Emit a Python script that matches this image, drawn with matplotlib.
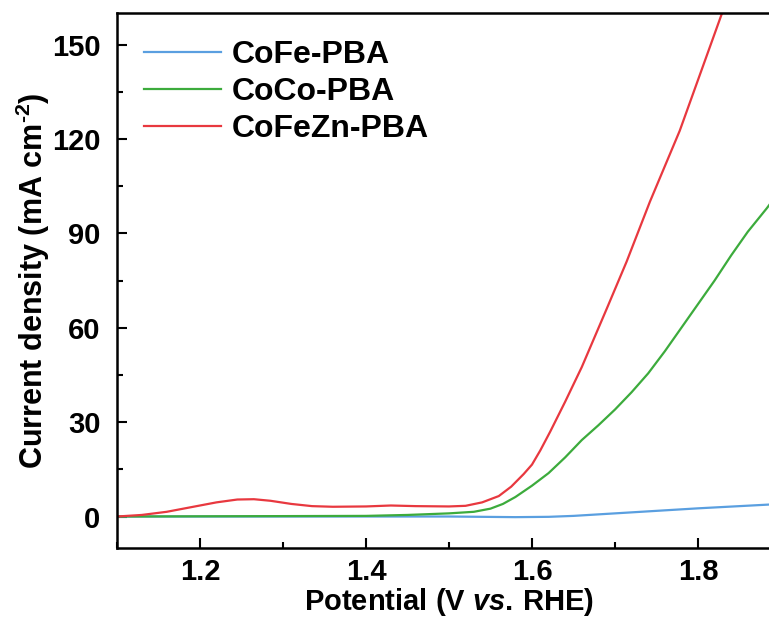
import numpy as np
import matplotlib.pyplot as plt
from matplotlib.ticker import MultipleLocator

plt.rcParams['font.family'] = ['Liberation Sans', 'DejaVu Sans']
plt.rcParams['font.weight'] = 'bold'
plt.rcParams['mathtext.fontset'] = 'custom'
plt.rcParams['mathtext.rm'] = 'Liberation Sans:bold'
plt.rcParams['mathtext.bf'] = 'Liberation Sans:bold'
plt.rcParams['mathtext.it'] = 'Liberation Sans:bold:italic'
plt.rcParams['mathtext.bfit'] = 'Liberation Sans:bold:italic'

# CoFe-PBA
v_cofe = [1.10, 1.50, 1.58, 1.62, 1.65, 1.70, 1.75, 1.80, 1.85, 1.90]
j_cofe = [0.0, 0.0, -0.2, -0.1, 0.2, 1.0, 1.8, 2.6, 3.3, 4.0]

# CoCo-PBA
v_coco = [1.10, 1.40, 1.45, 1.50, 1.53, 1.55, 1.565, 1.58, 1.60, 1.62, 1.64,
          1.66, 1.68, 1.70, 1.72, 1.74, 1.76, 1.78, 1.80, 1.82, 1.84, 1.86,
          1.883, 1.90]
j_coco = [0.0, 0.2, 0.5, 1.0, 1.5, 2.5, 4.0, 6.2, 9.8, 13.8, 18.8,
          24.3, 29.0, 34.0, 39.5, 45.5, 52.5, 60.0, 67.5, 75.0, 83.0, 90.5,
          98.0, 104.0]

# CoFeZn-PBA
v_cofezn = [1.10, 1.13, 1.16, 1.19, 1.22, 1.245, 1.265, 1.285, 1.31, 1.335,
            1.36, 1.40, 1.43, 1.46, 1.50, 1.52, 1.54, 1.56, 1.575, 1.59,
            1.60, 1.61, 1.622, 1.64, 1.66, 1.69, 1.714, 1.742, 1.778, 1.829,
            1.84]
j_cofezn = [0.0, 0.5, 1.5, 3.0, 4.5, 5.4, 5.5, 5.0, 4.0, 3.3,
            3.1, 3.2, 3.5, 3.3, 3.2, 3.4, 4.5, 6.5, 9.5, 13.5,
            16.5, 21.0, 27.0, 36.5, 47.5, 66.0, 81.0, 100.0, 122.6, 160.0,
            168.0]

fig = plt.figure(figsize=(7.69, 6.22), dpi=100)
ax = fig.add_axes([0.1521, 0.119, 0.8635, 0.860])

ax.plot(v_cofe, j_cofe, color='#5a9fe0', lw=1.6, label='CoFe-PBA')
ax.plot(v_coco, j_coco, color='#3cab3c', lw=1.6, label='CoCo-PBA')
ax.plot(v_cofezn, j_cofezn, color='#e8383f', lw=1.6, label='CoFeZn-PBA')

ax.set_xlim(1.1, 1.9)
ax.set_ylim(-10, 160)
ax.xaxis.set_major_locator(MultipleLocator(0.2))
ax.xaxis.set_minor_locator(MultipleLocator(0.1))
ax.yaxis.set_major_locator(MultipleLocator(30))
ax.yaxis.set_minor_locator(MultipleLocator(15))
ax.tick_params(which='both', direction='in', width=1.5, labelsize=21)
ax.tick_params(which='major', length=7.5)
ax.tick_params(which='minor', length=4)
ax.tick_params(axis='x', which='major', pad=7)
ax.tick_params(axis='y', which='major', pad=12)
for s in ax.spines.values():
    s.set_linewidth(1.8)

ax.set_xlabel(r'Potential (V $\mathit{vs.}\,$RHE)', fontsize=21, fontweight='bold')
ax.set_ylabel(r'Current density (mA cm$^{\text{-2}}$)', fontsize=22, fontweight='bold')
ax.xaxis.set_label_coords(0.5, -0.072)
ax.yaxis.set_label_coords(-0.098, 0.5)

ax.legend(loc='upper left', frameon=False, fontsize=23, handlelength=2.4,
          handletextpad=0.33, borderaxespad=0.45, labelspacing=0.22)

fig.savefig('out.png', dpi=100)
